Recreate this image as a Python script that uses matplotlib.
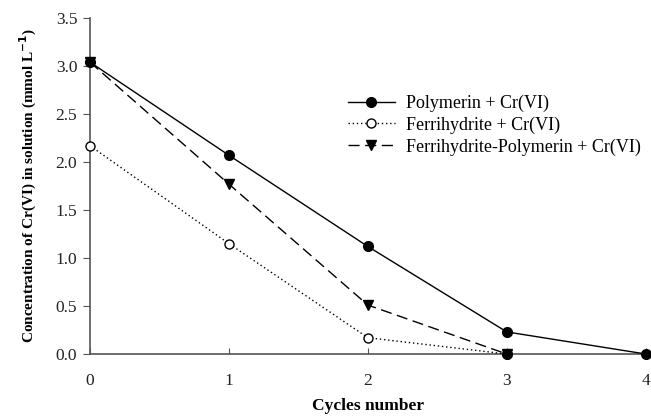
import matplotlib
matplotlib.use("Agg")
import matplotlib.pyplot as plt

plt.rcParams['font.family'] = ['Liberation Serif', 'DejaVu Serif']

cycles = [0, 1, 2, 3, 4]
polymerin = [3.04, 2.07, 1.12, 0.23, 0.0]
ferri_cycles = [0, 1, 2, 3]
ferrihydrite = [2.17, 1.15, 0.17, 0.0]
fp_cycles = [0, 1, 2, 3]
ferri_polymerin = [3.04, 1.77, 0.51, 0.0]

labels = ["Polymerin + Cr(VI)", "Ferrihydrite + Cr(VI)", "Ferrihydrite-Polymerin + Cr(VI)"]

fig = plt.figure(figsize=(6.51, 4.16), dpi=100)
ax = fig.add_axes([0.138, 0.149, 0.854, 0.808])

ax.plot(fp_cycles, ferri_polymerin, color='black', lw=1.0, ls=(0, (8, 4)),
        marker='v', ms=7, mfc='black', mec='black', label=labels[2], clip_on=False, zorder=3)
ax.plot(ferri_cycles, ferrihydrite, color='black', lw=1.0, ls=(0, (1, 2)),
        marker='o', ms=6.5, mfc='white', mec='black', label=labels[1], clip_on=False, zorder=3)
ax.plot(cycles, polymerin, color='black', lw=1.0, ls='-',
        marker='o', ms=7, mfc='black', mec='black', label=labels[0], clip_on=False, zorder=4)
# overlapping filled marker at the final common zero point
ax.plot(ferri_cycles[-1:], ferrihydrite[-1:], ls='none', marker='o', ms=7,
        mfc='black', mec='black', clip_on=False, zorder=5)

ax.set_xlim(0, 4)
ax.set_ylim(0, 3.5)
ax.set_xticks([0, 1, 2, 3, 4])
ax.set_yticks([0, 0.5, 1.0, 1.5, 2.0, 2.5, 3.0, 3.5])
ax.set_yticklabels([f"{v:.1f}" for v in [0, 0.5, 1.0, 1.5, 2.0, 2.5, 3.0, 3.5]])

for s in ['top', 'right']:
    ax.spines[s].set_visible(False)
for s in ['left', 'bottom']:
    ax.spines[s].set_color('#555555')
    ax.spines[s].set_linewidth(1.2)

ax.tick_params(axis='y', direction='out', length=5, color='#555555', labelsize=12.5,
               pad=4, labelcolor='#222222')
ax.tick_params(axis='x', direction='in', length=4, color='#555555', labelsize=12.5,
               pad=14, labelcolor='#222222')

ax.set_xlabel("Cycles number", fontsize=12.5, fontweight='bold', labelpad=6)
ax.set_ylabel("Concentration of Cr(VI) in solution (mmol L$^{\\mathbf{-1}}$)", fontsize=11,
              fontweight='bold', labelpad=12)

handles, labs = ax.get_legend_handles_labels()
order = [2, 1, 0]
leg = ax.legend([handles[i] for i in order], [labs[i] for i in order],
                loc='upper left', bbox_to_anchor=(0.435, 0.82), frameon=False,
                fontsize=13, handlelength=2.6, labelspacing=0.25, handletextpad=0.6)

fig.savefig("out.png", dpi=100)
